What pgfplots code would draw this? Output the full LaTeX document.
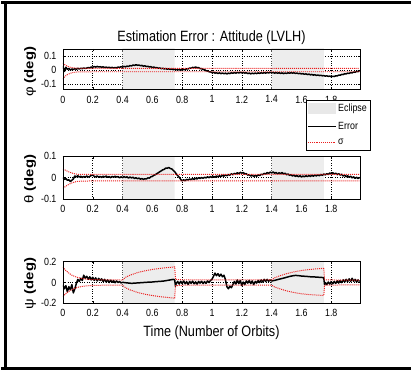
\documentclass[border=0pt]{standalone}
\usepackage{fontspec}
\setmainfont{Liberation Sans}[FakeStretch=0.85]
\newfontfamily\plainsans{Liberation Sans}
\usepackage{pgfplots}
\usepackage{pgfplotstable}
\pgfplotsset{compat=1.18}
\definecolor{eclipse}{gray}{0.93}
\definecolor{sigred}{rgb}{0.92,0.12,0.12}

\pgfplotstableread{
t e1 e2
0.00 0.030 0.000
0.01 -0.010 -0.008
0.02 0.020 -0.004
0.03 0.005 -0.012
0.04 0.012 -0.010
0.05 0.000 -0.018
0.06 0.008 -0.012
0.07 0.004 -0.006
0.08 0.010 0.008
0.09 0.006 0.004
0.10 0.012 0.009
0.11 0.008 0.003
0.12 0.013 0.007
0.13 0.010 0.001
0.14 0.015 0.006
0.15 0.011 0.002
0.16 0.014 0.008
0.17 0.018 0.003
0.18 0.015 0.006
0.19 0.022 0.010
0.20 0.020 0.013
0.21 0.025 0.006
0.22 0.021 0.004
0.23 0.026 0.008
0.24 0.022 0.002
0.25 0.024 0.006
0.26 0.020 0.001
0.27 0.023 0.007
0.28 0.018 0.003
0.29 0.021 0.008
0.30 0.017 0.002
0.31 0.020 0.005
0.32 0.016 0.000
0.33 0.019 0.006
0.34 0.015 0.002
0.35 0.018 0.007
0.36 0.016 0.003
0.37 0.021 0.005
0.38 0.019 -0.001
0.39 0.024 0.004
0.40 0.021 0.000
0.41 0.026 0.005
0.42 0.023 0.001
0.43 0.028 0.004
0.44 0.026 -0.002
0.45 0.032 0.003
0.46 0.029 -0.001
0.47 0.036 0.002
0.48 0.033 -0.004
0.49 0.038 0.000
0.50 0.034 -0.005
0.51 0.036 -0.002
0.52 0.031 -0.007
0.53 0.033 -0.004
0.54 0.028 -0.008
0.55 0.030 -0.005
0.56 0.025 -0.006
0.57 0.027 -0.001
0.58 0.022 -0.002
0.59 0.024 0.004
0.60 0.019 0.006
0.61 0.021 0.011
0.62 0.016 0.014
0.63 0.018 0.019
0.64 0.013 0.023
0.65 0.015 0.028
0.66 0.010 0.032
0.67 0.013 0.037
0.68 0.008 0.039
0.69 0.011 0.045
0.70 0.006 0.044
0.71 0.009 0.048
0.72 0.005 0.043
0.73 0.008 0.041
0.74 0.003 0.034
0.75 0.006 0.028
0.76 0.002 0.018
0.77 0.005 0.010
0.78 0.001 0.002
0.79 0.004 -0.008
0.80 0.000 -0.015
0.81 0.005 -0.010
0.82 0.003 -0.014
0.83 0.009 -0.008
0.84 0.008 -0.011
0.85 0.014 -0.006
0.86 0.013 -0.009
0.87 0.019 -0.004
0.88 0.017 -0.008
0.89 0.022 -0.003
0.90 0.016 -0.006
0.91 0.018 0.000
0.92 0.010 -0.004
0.93 0.011 0.001
0.94 0.003 -0.003
0.95 0.004 0.002
0.96 -0.005 -0.001
0.97 -0.006 0.004
0.98 -0.012 0.000
0.99 -0.013 0.005
1.00 -0.018 0.001
1.01 -0.016 0.006
1.02 -0.022 0.002
1.03 -0.019 0.008
1.04 -0.024 0.004
1.05 -0.020 0.009
1.06 -0.025 0.005
1.07 -0.021 0.011
1.08 -0.026 0.007
1.09 -0.022 0.013
1.10 -0.027 0.009
1.11 -0.022 0.015
1.12 -0.025 0.012
1.13 -0.019 0.018
1.14 -0.023 0.014
1.15 -0.018 0.020
1.16 -0.022 0.017
1.17 -0.017 0.023
1.18 -0.021 0.019
1.19 -0.016 0.025
1.20 -0.020 0.021
1.21 -0.017 0.024
1.22 -0.022 0.017
1.23 -0.019 0.019
1.24 -0.025 0.012
1.25 -0.021 0.014
1.26 -0.027 0.008
1.27 -0.022 0.011
1.28 -0.026 0.006
1.29 -0.021 0.010
1.30 -0.025 0.007
1.31 -0.020 0.013
1.32 -0.024 0.010
1.33 -0.019 0.016
1.34 -0.023 0.014
1.35 -0.018 0.020
1.36 -0.022 0.017
1.37 -0.017 0.024
1.38 -0.021 0.020
1.39 -0.016 0.026
1.40 -0.020 0.022
1.41 -0.017 0.027
1.42 -0.022 0.021
1.43 -0.018 0.024
1.44 -0.023 0.018
1.45 -0.019 0.023
1.46 -0.024 0.019
1.47 -0.020 0.024
1.48 -0.025 0.017
1.49 -0.021 0.021
1.50 -0.024 0.014
1.51 -0.019 0.017
1.52 -0.023 0.011
1.53 -0.018 0.014
1.54 -0.022 0.008
1.55 -0.019 0.012
1.56 -0.024 0.006
1.57 -0.021 0.010
1.58 -0.026 0.004
1.59 -0.023 0.009
1.60 -0.028 0.003
1.61 -0.025 0.008
1.62 -0.030 0.004
1.63 -0.027 0.009
1.64 -0.032 0.005
1.65 -0.029 0.010
1.66 -0.034 0.006
1.67 -0.031 0.011
1.68 -0.036 0.007
1.69 -0.033 0.012
1.70 -0.038 0.008
1.71 -0.035 0.013
1.72 -0.039 0.009
1.73 -0.037 0.015
1.74 -0.041 0.011
1.75 -0.039 0.017
1.76 -0.043 0.013
1.77 -0.041 0.019
1.78 -0.045 0.015
1.79 -0.043 0.022
1.80 -0.047 0.018
1.81 -0.044 0.023
1.82 -0.046 0.017
1.83 -0.041 0.021
1.84 -0.042 0.014
1.85 -0.036 0.019
1.86 -0.037 0.012
1.87 -0.031 0.016
1.88 -0.032 0.008
1.89 -0.026 0.012
1.90 -0.027 0.004
1.91 -0.022 0.009
1.92 -0.024 0.002
1.93 -0.018 0.007
1.94 -0.020 -0.001
1.95 -0.014 0.004
1.96 -0.016 -0.003
1.97 -0.009 0.002
1.98 -0.011 -0.004
1.99 -0.003 0.001
}\errA

\pgfplotstableread{
t e3
0.00 -0.020
0.01 -0.060
0.02 -0.030
0.03 -0.090
0.04 -0.040
0.05 -0.070
0.06 -0.020
0.07 -0.100
0.08 -0.060
0.09 -0.010
0.10 0.030
0.11 0.010
0.12 0.040
0.13 0.020
0.14 0.070
0.15 0.040
0.16 0.060
0.17 0.030
0.18 0.055
0.19 0.025
0.20 0.050
0.21 0.020
0.22 0.045
0.23 0.015
0.24 0.040
0.25 0.020
0.26 0.035
0.27 0.010
0.28 0.030
0.29 0.005
0.30 0.025
0.31 0.000
0.32 0.022
0.33 0.003
0.34 0.018
0.35 -0.002
0.36 0.015
0.37 0.000
0.38 0.010
0.39 -0.004
0.40 0.002
0.42 -0.002
0.44 -0.005
0.46 -0.008
0.48 -0.006
0.50 -0.004
0.52 -0.002
0.54 0.000
0.56 0.002
0.58 0.004
0.60 0.005
0.62 0.008
0.64 0.010
0.66 0.012
0.68 0.015
0.70 0.020
0.72 0.025
0.74 0.030
0.75 0.025
0.755 -0.035
0.76 -0.010
0.77 0.010
0.78 -0.015
0.79 0.012
0.80 -0.010
0.81 0.015
0.82 -0.012
0.83 0.008
0.84 -0.018
0.85 0.010
0.86 -0.008
0.87 0.014
0.88 -0.012
0.89 0.006
0.90 -0.015
0.91 0.010
0.92 -0.006
0.93 0.012
0.94 -0.010
0.95 0.008
0.96 -0.008
0.97 0.015
0.98 0.000
0.99 0.020
1.00 0.030
1.01 0.060
1.02 0.090
1.03 0.065
1.04 0.085
1.05 0.060
1.06 0.080
1.07 0.055
1.08 0.070
1.09 0.030
1.10 -0.040
1.11 -0.060
1.12 -0.035
1.13 -0.050
1.14 -0.020
1.15 0.010
1.16 -0.015
1.17 0.025
1.18 -0.010
1.19 0.020
1.20 -0.030
1.21 0.005
1.22 -0.020
1.23 0.015
1.24 -0.005
1.25 0.020
1.26 -0.010
1.27 0.015
1.28 -0.020
1.29 0.010
1.30 -0.005
1.31 0.020
1.32 0.000
1.33 0.025
1.34 0.005
1.35 0.030
1.36 0.010
1.37 0.030
1.38 0.012
1.39 0.025
1.40 0.015
1.42 0.020
1.44 0.028
1.46 0.035
1.48 0.042
1.50 0.050
1.52 0.058
1.54 0.064
1.56 0.068
1.58 0.066
1.60 0.062
1.62 0.060
1.64 0.058
1.66 0.055
1.68 0.054
1.70 0.052
1.72 0.050
1.74 0.048
1.75 0.045
1.755 -0.020
1.76 0.000
1.77 -0.020
1.78 0.005
1.79 -0.015
1.80 0.008
1.81 -0.012
1.82 0.010
1.83 -0.008
1.84 0.015
1.85 -0.005
1.86 0.020
1.87 0.000
1.88 0.025
1.89 0.005
1.90 0.030
1.91 0.008
1.92 0.035
1.93 0.010
1.94 0.040
1.95 0.012
1.96 0.030
1.97 0.005
1.98 0.025
1.99 0.010
}\errC

\pgfplotstableread{
t up lo
0.00 0.150 -0.135
0.01 0.130 -0.120
0.02 0.115 -0.105
0.04 0.090 -0.085
0.06 0.070 -0.068
0.08 0.058 -0.055
0.10 0.048 -0.046
0.13 0.038 -0.037
0.16 0.032 -0.032
0.20 0.028 -0.028
0.30 0.025 -0.025
0.40 0.024 -0.024
0.42 0.050 -0.050
0.45 0.070 -0.070
0.50 0.095 -0.095
0.55 0.112 -0.112
0.60 0.125 -0.125
0.65 0.135 -0.135
0.70 0.143 -0.143
0.75 0.150 -0.150
0.755 0.030 -0.030
0.80 0.026 -0.026
1.00 0.025 -0.025
1.40 0.025 -0.025
1.42 0.045 -0.042
1.45 0.062 -0.058
1.50 0.085 -0.080
1.55 0.102 -0.096
1.60 0.115 -0.108
1.65 0.124 -0.115
1.70 0.131 -0.120
1.75 0.136 -0.124
1.755 0.025 -0.025
1.99 0.022 -0.022
}\sigC

\pgfplotsset{
  panel/.style={
    scale only axis, width=299pt, xmin=0, xmax=1.993,
    xtick={0,0.2,0.4,0.6,0.8,1,1.2,1.4,1.6,1.8},
    grid=major, major grid style={dotted, black, line width=0.5pt},
    tick align=inside, major tick length=2.5pt,
    tick style={black, line width=0.4pt},
    tick label style={font=\fontsize{10.5}{10.5}\selectfont},
    xticklabel style={yshift=-2.5pt},
    yticklabel style={xshift=-3pt},
    /pgf/number format/assume math mode=true,
    /pgf/number format/fixed,
    axis line style={line width=0.6pt},
    every axis plot/.append style={line join=round},
  },
  errline/.style={black, line width=1.5pt},
  sigline/.style={sigred, densely dotted, line width=1pt},
}

\begin{document}
\begin{tikzpicture}
\path[draw=none, fill=none] (0pt,0pt) rectangle (412pt,-371pt);

% Panel 1
\begin{axis}[panel, at={(62pt,-89pt)}, anchor=south west, height=41pt,
  ymin=-0.14, ymax=0.15, ytick={-0.1,0,0.1},
  legend style={at={(0.819,-0.244)}, anchor=north west, draw=black, line width=0.6pt,
    fill=white, font=\fontsize{10.5}{11}\selectfont, row sep=6.5pt,
    inner xsep=1pt, inner ysep=3pt, legend cell align=left,
    nodes={inner xsep=2pt, inner ysep=1pt}},
]
\addplot[fill=eclipse, draw=none,
  legend image code/.code={\fill[gray!18] (0pt,-5pt) rectangle (28pt,6pt);}]
  coordinates {(0.4,-1) (0.75,-1) (0.75,1) (0.4,1) (0.4,-1)};
\addlegendentry{Eclipse}
\addplot[fill=eclipse, draw=none, forget plot]
  coordinates {(1.4,-1) (1.75,-1) (1.75,1) (1.4,1) (1.4,-1)};
\addplot[errline, legend image code/.code={\draw[black, line width=0.8pt] (0pt,0pt) -- (28pt,0pt);}]
  table[x=t, y=e1] {\errA};
\addlegendentry{Error}
\addplot[sigline, legend image code/.code={\draw[sigred, densely dotted, line width=0.9pt] (0pt,0pt) -- (28pt,0pt);}]
  coordinates {(0,0.050) (0.01,0.040) (0.02,0.033) (0.03,0.027) (0.05,0.020) (0.07,0.016) (0.10,0.013) (0.20,0.012) (1.99,0.012)};
\addlegendentry{σ}
\addplot[sigline, forget plot]
  coordinates {(0,-0.065) (0.01,-0.050) (0.02,-0.040) (0.03,-0.032) (0.05,-0.023) (0.07,-0.017) (0.10,-0.013) (0.20,-0.012) (1.99,-0.012)};
\draw[line width=0.6pt] (rel axis cs:0,0) rectangle (rel axis cs:1,1);
\end{axis}

% Panel 2
\begin{axis}[panel, at={(62pt,-199pt)}, anchor=south west, height=43pt,
  ymin=-0.1, ymax=0.1, ytick={-0.1,0,0.1}]
\addplot[fill=eclipse, draw=none]
  coordinates {(0.4,-1) (0.75,-1) (0.75,1) (0.4,1) (0.4,-1)};
\addplot[fill=eclipse, draw=none]
  coordinates {(1.4,-1) (1.75,-1) (1.75,1) (1.4,1) (1.4,-1)};
\addplot[errline] table[x=t, y=e2] {\errA};
\addplot[sigline]
  coordinates {(0,0.040) (0.02,0.034) (0.04,0.027) (0.06,0.022) (0.08,0.018) (0.10,0.016) (0.20,0.015) (1.99,0.015)};
\addplot[sigline]
  coordinates {(0,-0.050) (0.02,-0.040) (0.04,-0.031) (0.06,-0.025) (0.08,-0.020) (0.10,-0.017) (0.20,-0.015) (1.99,-0.015)};
\draw[line width=0.6pt] (rel axis cs:0,0) rectangle (rel axis cs:1,1);
\end{axis}

% Panel 3
\begin{axis}[panel, at={(62pt,-304pt)}, anchor=south west, height=42pt,
  ymin=-0.2, ymax=0.2, ytick={-0.2,0,0.2}]
\addplot[fill=eclipse, draw=none]
  coordinates {(0.4,-1) (0.75,-1) (0.75,1) (0.4,1) (0.4,-1)};
\addplot[fill=eclipse, draw=none]
  coordinates {(1.4,-1) (1.75,-1) (1.75,1) (1.4,1) (1.4,-1)};
\addplot[errline] table[x=t, y=e3] {\errC};
\addplot[sigline] table[x=t, y=up] {\sigC};
\addplot[sigline] table[x=t, y=lo] {\sigC};
\draw[line width=0.6pt] (rel axis cs:0,0) rectangle (rel axis cs:1,1);
\end{axis}

% Titles and labels
\node[anchor=base, font=\fontsize{15}{15}\selectfont, inner sep=0pt] at (211.5pt,-40pt) {Estimation Error : Attitude (LVLH)};
\node[anchor=base, font=\fontsize{15}{15}\selectfont, inner sep=0pt] at (211.5pt,-337pt) {Time (Number of Orbits)};
\node[rotate=90, inner sep=0pt] at (29pt,-71pt) {\scalebox{1}[0.85]{\plainsans\fontsize{15}{15}\selectfont φ \bfseries(deg)}};
\node[rotate=90, inner sep=0pt] at (29pt,-179pt) {\scalebox{1}[0.85]{\plainsans\fontsize{15}{15}\selectfont θ \bfseries(deg)}};
\node[rotate=90, inner sep=0pt] at (29pt,-284pt) {\scalebox{1}[0.85]{\plainsans\fontsize{15}{15}\selectfont ψ \bfseries(deg)}};

\fill[white] (396pt,0pt) rectangle (412pt,-371pt);
\draw[line width=2.6pt] (4pt,0pt) -- (4pt,-371pt);
\draw[line width=2.6pt] (0pt,-1.3pt) -- (412pt,-1.3pt);
\draw[line width=2.6pt] (0pt,-369.7pt) -- (412pt,-369.7pt);
\end{tikzpicture}
\end{document}
